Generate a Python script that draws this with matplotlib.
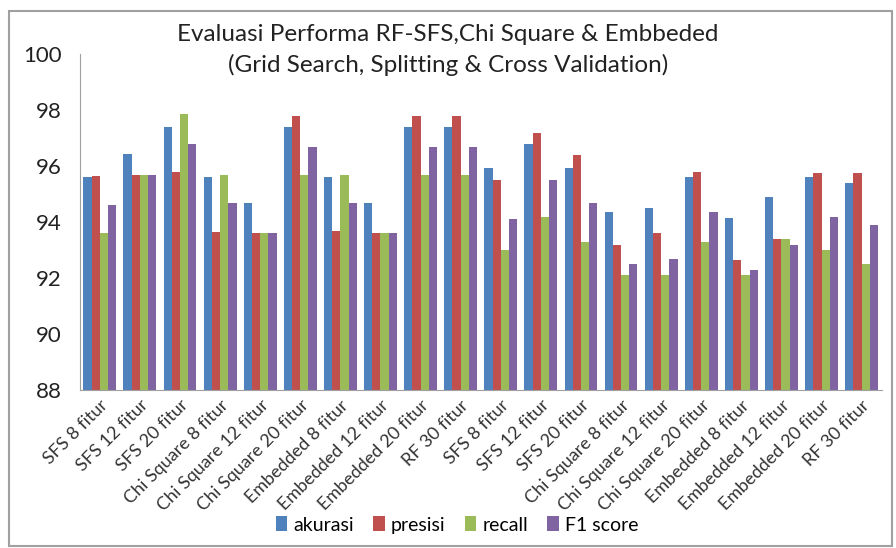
import numpy as np
import matplotlib
matplotlib.use("Agg")
import matplotlib.pyplot as plt
from matplotlib.patches import Rectangle

plt.rcParams["font.family"] = ["Lato", "DejaVu Sans"]

categories = [
    "SFS 8 fitur", "SFS 12 fitur", "SFS 20 fitur", "Chi Square 8 fitur",
    "Chi Square 12 fitur", "Chi Square 20 fitur", "Embedded 8 fitur",
    "Embedded 12 fitur", "Embedded 20 fitur", "RF 30 fitur",
    "SFS 8 fitur", "SFS 12 fitur", "SFS 20 fitur", "Chi Square 8 fitur",
    "Chi Square 12 fitur", "Chi Square 20 fitur", "Embedded 8 fitur",
    "Embedded 12 fitur", "Embedded 20 fitur", "RF 30 fitur",
]

akurasi = [95.6, 96.45, 97.4, 95.6, 94.7, 97.4, 95.6, 94.7, 97.4, 97.4,
           95.95, 96.8, 95.95, 94.35, 94.5, 95.6, 94.15, 94.9, 95.6, 95.4]
presisi = [95.65, 95.7, 95.8, 93.65, 93.6, 97.8, 93.7, 93.6, 97.8, 97.8,
           95.5, 97.2, 96.4, 93.2, 93.6, 95.8, 92.65, 93.4, 95.75, 95.75]
recall = [93.6, 95.7, 97.85, 95.7, 93.6, 95.7, 95.7, 93.6, 95.7, 95.7,
          93.0, 94.2, 93.3, 92.1, 92.1, 93.3, 92.1, 93.4, 93.0, 92.5]
f1_score = [94.6, 95.7, 96.8, 94.7, 93.6, 96.7, 94.7, 93.6, 96.7, 96.7,
            94.1, 95.5, 94.7, 92.5, 92.7, 94.35, 92.3, 93.2, 94.2, 93.9]

series = [
    ("akurasi", akurasi, "#4F81BD"),
    ("presisi", presisi, "#C0504D"),
    ("recall", recall, "#9BBB59"),
    ("F1 score", f1_score, "#8064A2"),
]

fig = plt.figure(figsize=(8.96, 5.48), dpi=100)
ax = fig.add_axes([0.089, 0.288, 0.895, 0.613])

# grey outer border like the Excel chart area
fig.patches.append(Rectangle((0.010, 0.004), 0.985, 0.976,
                             transform=fig.transFigure, fill=False,
                             edgecolor="#A0A0A0", linewidth=1.5))

x = np.arange(len(categories))
width = 0.205

for i, (name, vals, color) in enumerate(series):
    ax.bar(x + (i - 1.5) * width, np.array(vals) - 88, width,
           bottom=88, color=color, label=name)

ax.set_ylim(88, 100)
ax.set_xlim(-0.5, len(categories) - 0.5)
ax.set_yticks(np.arange(88, 101, 2))
ax.tick_params(axis="y", length=0, pad=13, labelsize=16, labelcolor="#222222")
ax.set_xticks(x)
ax.set_xticklabels(categories, rotation=45, ha="right",
                   rotation_mode="anchor", fontsize=13, color="#333333")
ax.tick_params(axis="x", length=0, pad=5)

for side in ["top", "right"]:
    ax.spines[side].set_visible(False)
ax.spines["left"].set_color("#A0A0A0")
ax.spines["bottom"].set_color("#A0A0A0")

fig.text(0.5, 0.908,
         "Evaluasi Performa RF-SFS,Chi Square & Embbeded\n"
         "(Grid Search, Splitting & Cross Validation)",
         ha="center", va="center", fontsize=17.5, color="#222222",
         linespacing=1.5)

fig.legend(loc="center", bbox_to_anchor=(0.51, 0.042), ncol=4,
           frameon=False, fontsize=14, handlelength=0.6, handleheight=0.8,
           handletextpad=0.3, columnspacing=1.0)

fig.savefig("out.png", dpi=100)
